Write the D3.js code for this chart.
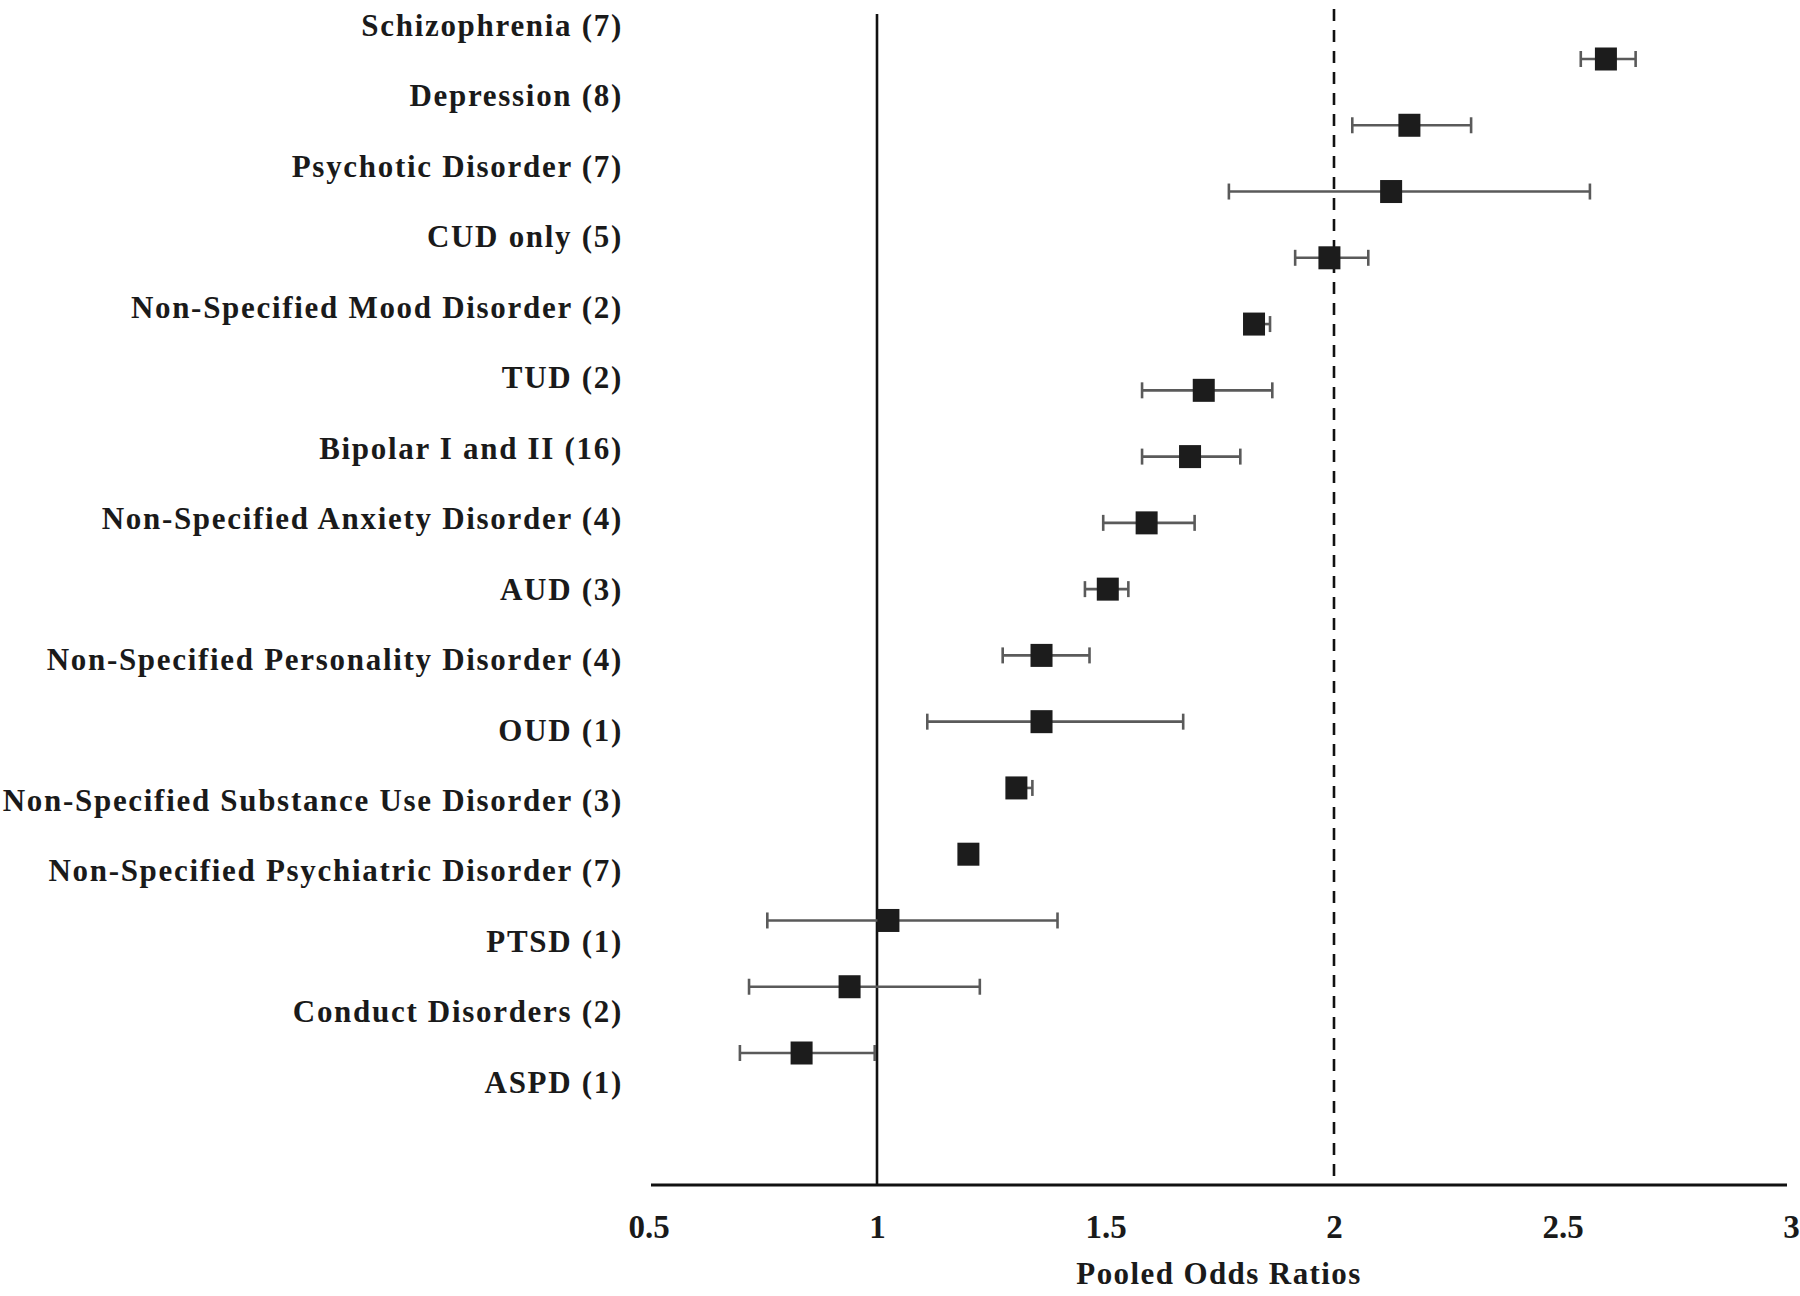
<!DOCTYPE html>
<html>
<head>
<meta charset="utf-8">
<script src="https://cdn.jsdelivr.net/npm/d3@7"></script>
<style>
  html, body { margin: 0; padding: 0; background: #fff; }
  svg { display: block; }
  text { font-family: "Liberation Serif", "Times New Roman", serif; font-weight: bold; fill: #1a1a1a; }
</style>
</head>
<body>
<svg id="chart" width="1800" height="1296"></svg>
<script>
const categories = [
  "Schizophrenia (7)",
  "Depression (8)",
  "Psychotic Disorder (7)",
  "CUD only (5)",
  "Non-Specified Mood Disorder (2)",
  "TUD (2)",
  "Bipolar I and II (16)",
  "Non-Specified Anxiety Disorder (4)",
  "AUD (3)",
  "Non-Specified Personality Disorder (4)",
  "OUD (1)",
  "Non-Specified Substance Use Disorder (3)",
  "Non-Specified Psychiatric Disorder (7)",
  "PTSD (1)",
  "Conduct Disorders (2)",
  "ASPD (1)"
];
const oddsRatio = [2.595, 2.165, 2.125, 1.99, 1.825, 1.715, 1.685, 1.59, 1.505, 1.36, 1.36, 1.305, 1.20, 1.025, 0.94, 0.835];
const ciLower   = [2.54, 2.04, 1.77, 1.915, 1.81, 1.58, 1.58, 1.495, 1.455, 1.275, 1.11, 1.29, 1.19, 0.76, 0.72, 0.70];
const ciUpper   = [2.66, 2.30, 2.56, 2.075, 1.86, 1.865, 1.795, 1.695, 1.55, 1.465, 1.67, 1.34, 1.21, 1.395, 1.225, 0.995];
const xTicks = [0.5, 1, 1.5, 2, 2.5, 3];
const refLines = [1, 2];
const xTitle = "Pooled Odds Ratios";

const svg = d3.select("#chart");

const x = d3.scaleLinear().domain([1, 2]).range([877, 1334]);
const yPoint = d3.scalePoint().domain(categories).range([59, 1053]);
const yLabel = d3.scalePoint().domain(categories).range([25, 1082]);
const axisY = 1185;
const axisLeft = 651, axisRight = 1787;

// category labels
svg.append("g").selectAll("text").data(categories).join("text")
  .attr("x", 623)
  .attr("y", d => yLabel(d))
  .attr("dy", "0.35em")
  .attr("text-anchor", "end")
  .style("font-size", "31px")
  .style("letter-spacing", "1.7px")
  .text(d => d);

// reference line at 1 (solid)
svg.append("line")
  .attr("x1", x(refLines[0])).attr("x2", x(refLines[0]))
  .attr("y1", 14).attr("y2", axisY)
  .attr("stroke", "#111").attr("stroke-width", 2.6);

// reference line at 2 (dashed)
svg.append("line")
  .attr("x1", x(refLines[1])).attr("x2", x(refLines[1]))
  .attr("y1", 9).attr("y2", axisY)
  .attr("stroke", "#111").attr("stroke-width", 2.6)
  .attr("stroke-dasharray", "12,9");

// x axis
const xAxis = d3.axisBottom(x).tickValues(xTicks).tickSize(0).tickPadding(30)
  .tickFormat(d => String(d));
const gx = svg.append("g").attr("transform", `translate(0,${axisY})`).call(xAxis);
gx.select(".domain").remove();
gx.append("line")
  .attr("x1", axisLeft).attr("x2", axisRight).attr("y1", 0).attr("y2", 0)
  .attr("stroke", "#111").attr("stroke-width", 3);
gx.selectAll(".tick text")
  .style("font-family", "'Liberation Serif', 'Times New Roman', serif")
  .style("font-weight", "bold")
  .style("font-size", "33px")
  .attr("fill", "#1a1a1a");

// axis title
svg.append("text")
  .attr("x", (axisLeft + axisRight) / 2)
  .attr("y", 1273)
  .attr("dy", "0.35em")
  .attr("text-anchor", "middle")
  .style("font-size", "31px")
  .style("letter-spacing", "1.4px")
  .text(xTitle);

// error bars
const data = categories.map((c, i) => ({ c, or: oddsRatio[i], lo: ciLower[i], hi: ciUpper[i] }));
const eb = svg.append("g").attr("stroke", "#5a5a5a").attr("stroke-width", 2.6);
eb.selectAll("line.ci").data(data).join("line").attr("class", "ci")
  .attr("x1", d => x(d.lo)).attr("x2", d => x(d.hi))
  .attr("y1", d => yPoint(d.c)).attr("y2", d => yPoint(d.c));
eb.selectAll("line.capL").data(data).join("line").attr("class", "capL")
  .attr("x1", d => x(d.lo)).attr("x2", d => x(d.lo))
  .attr("y1", d => yPoint(d.c) - 8).attr("y2", d => yPoint(d.c) + 8);
eb.selectAll("line.capR").data(data).join("line").attr("class", "capR")
  .attr("x1", d => x(d.hi)).attr("x2", d => x(d.hi))
  .attr("y1", d => yPoint(d.c) - 8).attr("y2", d => yPoint(d.c) + 8);

// point estimates
svg.append("g").selectAll("rect").data(data).join("rect")
  .attr("x", d => x(d.or) - 11)
  .attr("y", d => yPoint(d.c) - 11.5)
  .attr("width", 22)
  .attr("height", 23)
  .attr("fill", "#1c1c1c");
</script>
</body>
</html>
